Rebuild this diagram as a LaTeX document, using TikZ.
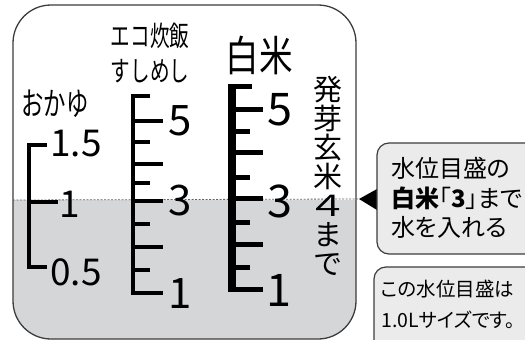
\documentclass[tikz,border=0pt]{standalone}
\usepackage{fontspec}
\setmainfont{Noto Sans CJK JP}
\newfontfamily\jpfont[RawFeature=+palt]{Noto Sans CJK JP}
\newfontfamily\condfont[FakeStretch=0.8]{Noto Sans CJK JP}
\newfontfamily\narrowfont[FakeStretch=0.7]{Noto Sans CJK JP}
\definecolor{water}{HTML}{D5D6D8}
\definecolor{notefill}{HTML}{EBEBEB}
\definecolor{edge}{HTML}{3C3C3C}
\tikzset{
  gauge/.style={line width=4.5pt, line join=miter, line cap=butt},
  head/.style={inner sep=0pt, font=\narrowfont\fontsize{#1}{#1}\selectfont},
  num/.style={inner sep=0pt, font=\fontsize{#1}{#1}\selectfont},
  notebox/.style={draw=edge, fill=notefill, line width=1.2pt, rounded corners=12pt},
  notetext/.style={inner sep=0pt, align=left, anchor=west}
}
\begin{document}
\begin{tikzpicture}[x=1pt, y=-1pt]
        \useasboundingbox (0,0) rectangle (525,340);
        \clip (0,0) rectangle (525,340);
        \begin{scope}
          \clip[rounded corners=38pt] (13,5) rectangle (356,339);
          \fill[water] (0,200) rectangle (360,345);
        \end{scope}
        \draw[edge, line width=1.3pt, rounded corners=38pt] (13,5) rectangle (356,339);
        \coordinate (left) at (13,200);
        \coordinate (tip) at (359,199);
        \draw[edge!80, line width=0.8pt, dash pattern=on 2pt off 1.5pt] (left) -- (tip);
        \fill[black] (tip) -- (377,189) -- (377,210) -- cycle;

        \node[head=32] (okayu) at (55,104) {おかゆ};
        \node[head=28, align=left] (eco) at (150,53) {エコ炊飯\\[7pt]すしめし};
        \node[inner sep=0pt, font=\condfont\fontsize{42}{42}\selectfont] (rice) at (259,55) {白米};
        \node[inner sep=0pt, align=center, font=\fontsize{29}{29}\selectfont] (brown) at (328,176)
          {発\\芽\\玄\\米\\\scalebox{1.4}[1]{４}\\ま\\で};

        \draw[gauge] (47,145) -- (29,145) -- (29,267) -- (47,267);
        \draw[gauge] (29,202) -- (58,202);
        \node[num=37] (ok15) at (76,144) {1.5};
        \node[num=37] (ok1) at (70,204) {1};
        \node[num=37] (ok05) at (76,272) {0.5};

        \draw[gauge] (150,96) -- (133,96) -- (133,293) -- (163,293);
        \foreach \y in {121,164,201,247}
          \draw[gauge] (133,\y) -- (163,\y);
        \foreach \y in {142,183,224,270}
          \draw[gauge] (133,\y) -- (150,\y);
        \node[num=42] (eco5) at (180,121) {5};
        \node[num=42] (eco3) at (180,201) {3};
        \node[num=42] (eco1) at (180,294) {1};

        \draw[gauge, line width=5pt] (252,86) -- (232,86);
        \draw[gauge, line width=7.5pt] (232,83.5) -- (232,291.5);
        \draw[gauge, line width=5pt] (232,289) -- (263,289);
        \foreach \y in {109,152,198,244}
          \draw[gauge, line width=5pt] (232,\y) -- (263,\y);
        \foreach \y in {131,177,222,267}
          \draw[gauge, line width=5pt] (232,\y) -- (250,\y);
        \node[num=45] (rice5) at (280,110) {5};
        \node[num=45] (rice3) at (280,201) {3};
        \node[num=45] (rice1) at (279,290) {1};

        \draw[notebox] (377,143) rectangle (560,254);
        \node[notetext, font=\jpfont\fontsize{24}{29.5}\selectfont] (fill) at (391,198)
          {水位目盛の\\\textbf{白米}「\textbf{3}」まで\\水を入れる};
        \draw[notebox] (374,267) rectangle (560,360);
        \node[notetext, font=\jpfont\fontsize{19.5}{31}\selectfont] (size) at (381,304)
          {この水位目盛は\\1.0Lサイズです。};
\end{tikzpicture}
\end{document}
